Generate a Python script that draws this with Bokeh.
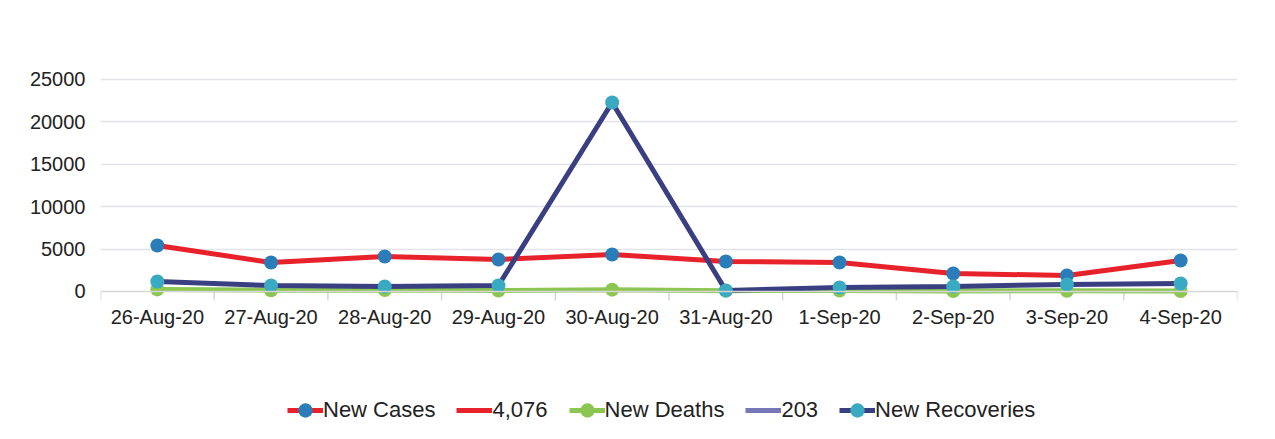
from bokeh.plotting import figure
from bokeh.models import ColumnDataSource, Range1d, FixedTicker, Legend, LegendItem, Span
from bokeh.embed import file_html
from bokeh.resources import INLINE

dates = ["26-Aug-20", "27-Aug-20", "28-Aug-20", "29-Aug-20", "30-Aug-20",
         "31-Aug-20", "1-Sep-20", "2-Sep-20", "3-Sep-20", "4-Sep-20"]
new_cases = [5420, 3420, 4130, 3770, 4360, 3540, 3420, 2120, 1890, 3650]
new_deaths = [250, 150, 180, 120, 220, 100, 110, 60, 90, 50]
new_recoveries = [1180, 710, 590, 710, 22290, 120, 470, 590, 830, 940]
y_ticks = [0, 5000, 10000, 15000, 20000, 25000]

FONT = "Liberation Sans"
idx = list(range(len(dates)))

p = figure(width=1275, height=439, output_backend="svg", toolbar_location=None,
           x_range=Range1d(-0.5, len(dates) - 0.5), y_range=Range1d(-17453, 26061),
           min_border_left=100, min_border_right=38, min_border_top=70, min_border_bottom=0)
p.outline_line_color = None
p.background_fill_color = "white"
p.border_fill_color = "white"

p.xgrid.grid_line_color = None
p.ygrid.grid_line_color = "#e3e3ea"
p.ygrid.grid_line_width = 1.5
p.yaxis.ticker = FixedTicker(ticks=y_ticks)
p.ygrid.ticker = FixedTicker(ticks=y_ticks[1:])
p.xaxis.ticker = FixedTicker(ticks=idx)
p.xaxis.major_label_overrides = {i: d for i, d in enumerate(dates)}
p.xaxis.fixed_location = 0

for ax in (p.xaxis, p.yaxis):
    ax.axis_line_color = None
    ax.major_tick_line_color = None
    ax.minor_tick_line_color = None
    ax.major_label_text_font = FONT
    ax.major_label_text_font_size = "20px"
    ax.major_label_text_color = "#222222"
p.yaxis.major_label_standoff = 9
p.xaxis.major_label_standoff = 9

# category axis line at zero with boundary ticks
p.add_layout(Span(location=0, dimension="width", line_color="#d6d6d6", line_width=1.5))
bounds = [i - 0.5 for i in range(len(dates) + 1)]
p.segment(x0=bounds, x1=bounds, y0=[0] * len(bounds), y1=[-1060] * len(bounds),
          line_color="#d6d6d6", line_width=1.5)

src = ColumnDataSource(dict(x=idx, cases=new_cases, deaths=new_deaths, rec=new_recoveries))

c_line = p.line("x", "cases", source=src, line_color="#e8222b", line_width=5)
c_mark = p.scatter("x", "cases", source=src, size=14, fill_color="#2a7db8", line_color=None)
d_line = p.line("x", "deaths", source=src, line_color="#8cc652", line_width=5)
d_mark = p.scatter("x", "deaths", source=src, size=14, fill_color="#8cc652", line_color=None)
r_line = p.line("x", "rec", source=src, line_color="#3a3f82", line_width=5)
r_mark = p.scatter("x", "rec", source=src, size=14, fill_color="#3aa9c2", line_color=None)

nan = float("nan")
dummy = ColumnDataSource(dict(x=[nan], y=[nan]))
l4076 = p.line("x", "y", source=dummy, line_color="#e8222b", line_width=5)
l203 = p.line("x", "y", source=dummy, line_color="#7776b6", line_width=5)

legend = Legend(items=[
    LegendItem(label="New Cases", renderers=[c_line, c_mark]),
    LegendItem(label="4,076", renderers=[l4076]),
    LegendItem(label="New Deaths", renderers=[d_line, d_mark]),
    LegendItem(label="203", renderers=[l203]),
    LegendItem(label="New Recoveries", renderers=[r_line, r_mark]),
], orientation="horizontal", location=(187, 11),
    label_text_font=FONT, label_text_font_size="22px", label_text_color="#222222",
    glyph_width=36, glyph_height=36, label_height=22, label_standoff=0, spacing=21,
    padding=10, border_line_color=None, background_fill_alpha=0)
p.add_layout(legend)

open("out.html", "w").write(file_html(p, INLINE))
